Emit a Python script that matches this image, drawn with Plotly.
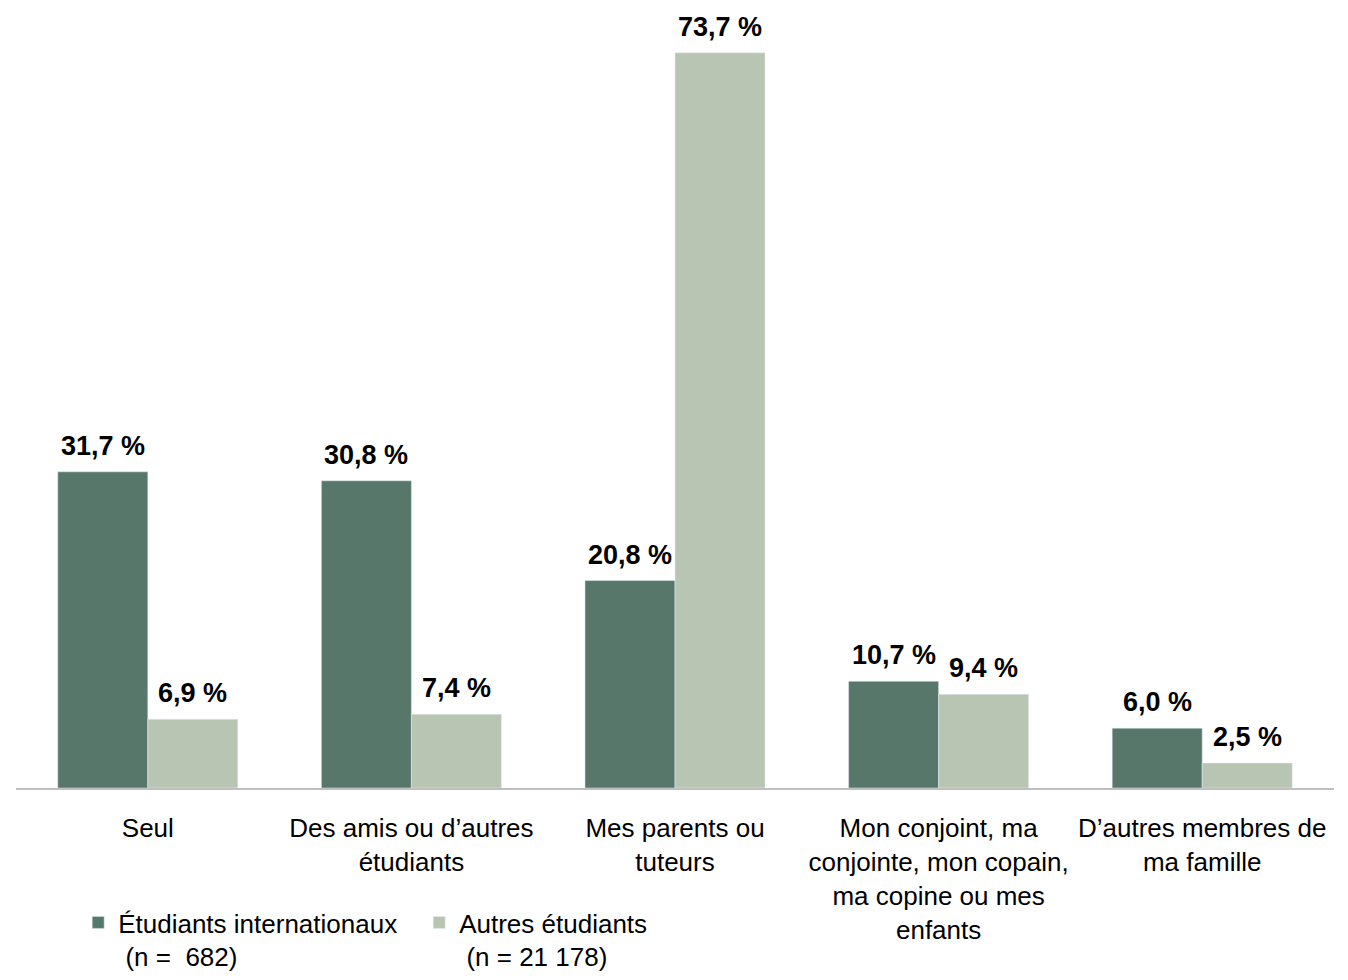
import plotly.graph_objects as go

categories = ["Seul", "Des amis ou d’autres<br>étudiants", "Mes parents ou<br>tuteurs",
              "Mon conjoint, ma<br>conjointe, mon copain,<br>ma copine ou mes<br>enfants",
              "D’autres membres de<br>ma famille"]
intl = [31.7, 30.8, 20.8, 10.7, 6.0]
autres = [6.9, 7.4, 73.7, 9.4, 2.5]
series_names = ["Étudiants internationaux<br> (n =  682)", "Autres étudiants<br> (n = 21 178)"]

C1 = "#57776B"
C2 = "#B9C5B3"
FONT = "Liberation Sans, Arial, sans-serif"

def fmt(v):
    return f"{v:.1f}".replace(".", ",") + " %"

fig = go.Figure()
fig.add_trace(go.Bar(x=categories, y=intl, name=series_names[0], marker_color=C1))
fig.add_trace(go.Bar(x=categories, y=autres, name=series_names[1], marker_color=C2))

for vals, shift in ((intl, -45), (autres, 45)):
    for c, v in zip(categories, vals):
        fig.add_annotation(x=c, y=v, text="<b>" + fmt(v) + "</b>", showarrow=False,
                           xshift=shift, yshift=9, yanchor="bottom",
                           font=dict(size=27, color="#000000", family=FONT))

fig.update_layout(
    width=1348, height=980,
    margin=dict(l=16, r=14, t=0, b=192),
    paper_bgcolor="white", plot_bgcolor="white",
    barmode="group", bargap=0.317, bargroupgap=0,
    font=dict(family=FONT, size=26, color="#000000"),
    showlegend=True,
    legend=dict(orientation="h", xref="container", yref="container",
                x=0.058, y=-0.008, xanchor="left", yanchor="bottom",
                entrywidthmode="pixels", entrywidth=296, valign="top",
                tracegroupgap=0, itemclick=False,
                font=dict(size=26, family=FONT)),
)
fig.update_xaxes(type="category", showline=True, linecolor="#BFBFBF", linewidth=2,
                 ticks="", ticklabelstandoff=16, showgrid=False, automargin=False,
                 tickfont=dict(size=26, family=FONT))
fig.update_yaxes(range=[0, 79], visible=False, showgrid=False, zeroline=False)

fig.write_html("out.html", config={"displayModeBar": False},
               post_script="document.body.style.margin='0';document.body.style.overflow='hidden';")
